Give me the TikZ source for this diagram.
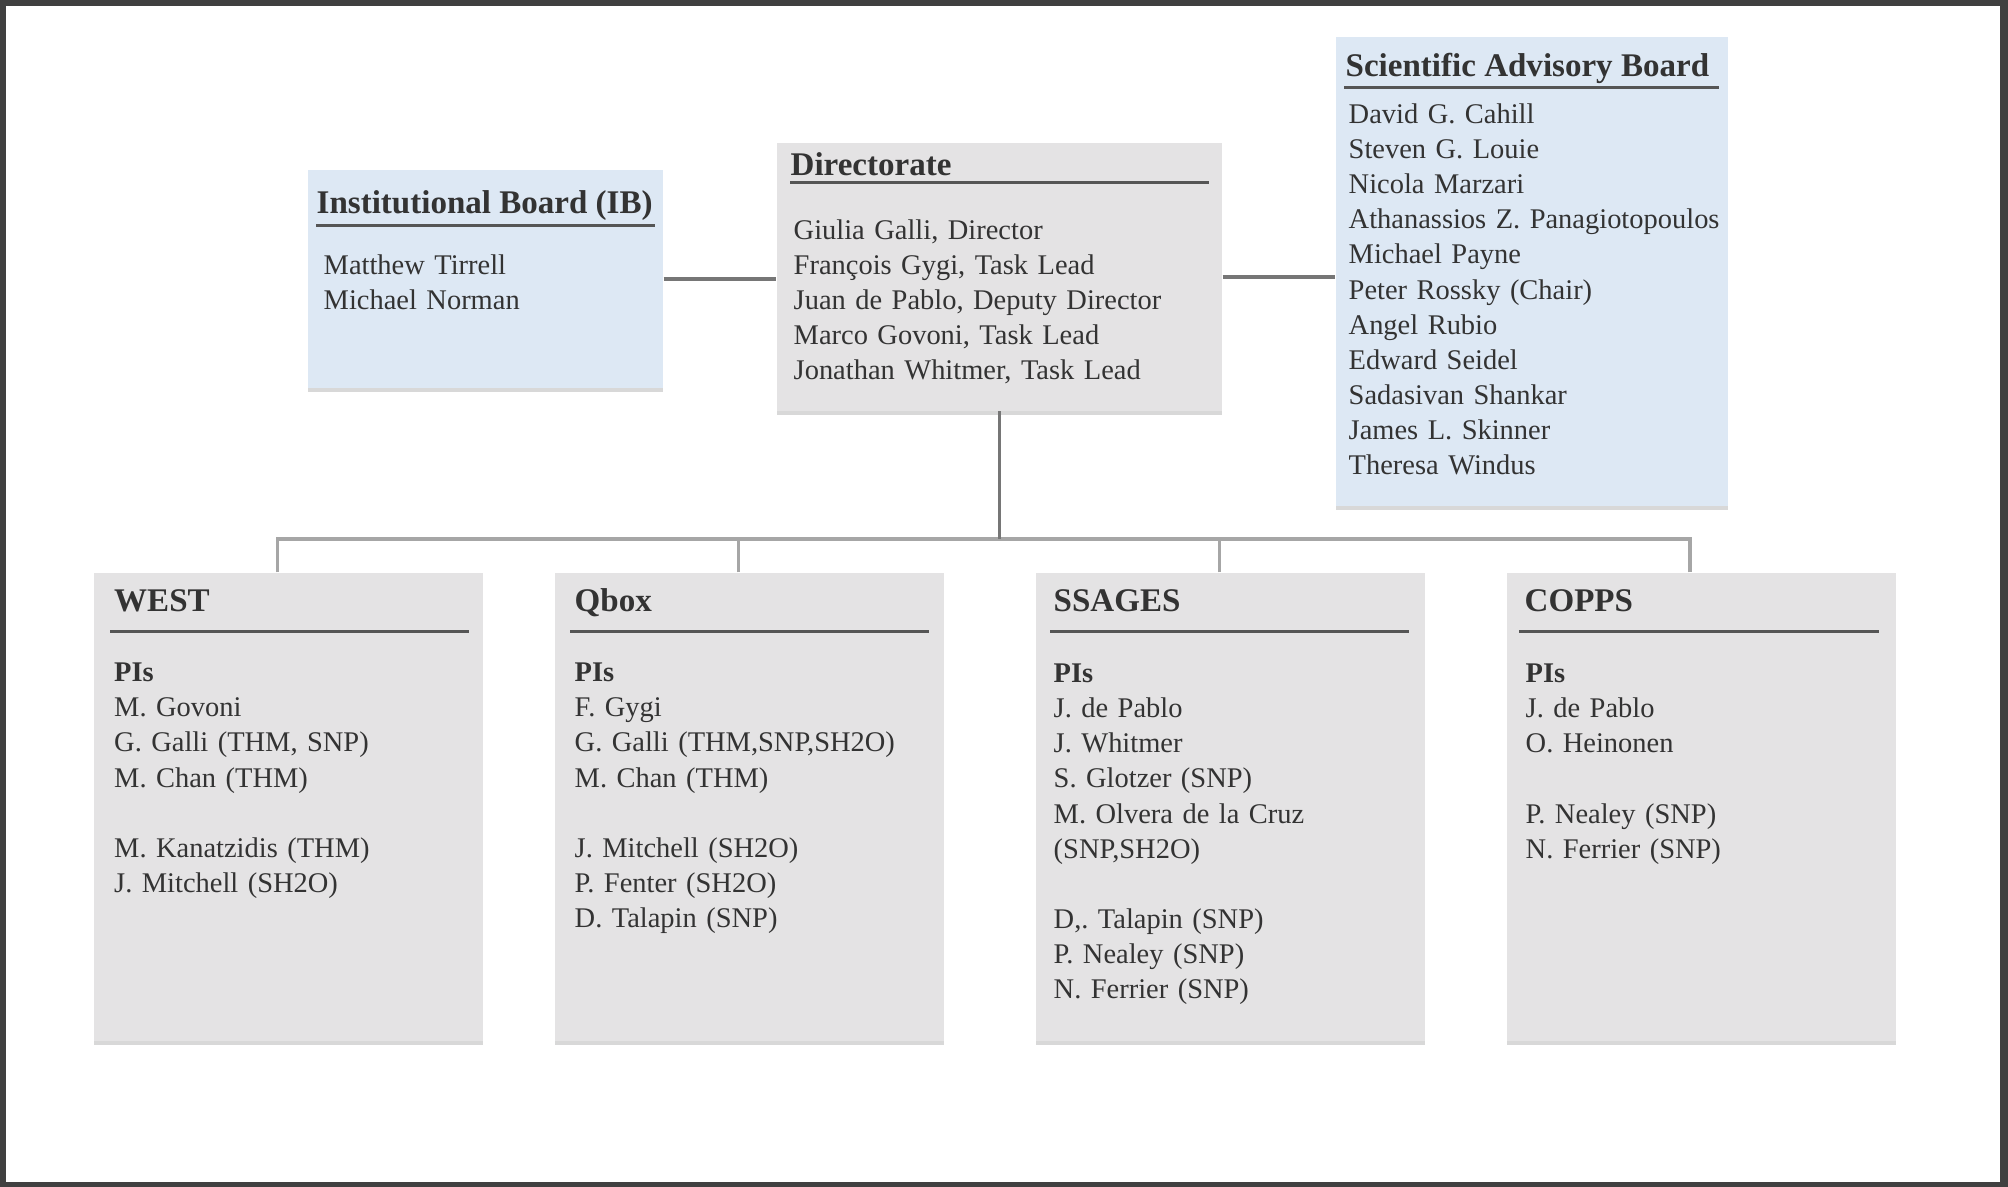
\documentclass[tikz,border=0pt]{standalone}
\usepackage{fontspec}
\setmainfont{Liberation Serif}
\usepackage{tikz}
\usetikzlibrary{shapes,arrows,positioning,calc,shadows}

\definecolor{framegray}{HTML}{404040}
\definecolor{boxgray}{HTML}{E4E3E4}
\definecolor{boxblue}{HTML}{DDE8F4}
\definecolor{inkgray}{HTML}{333333}
\definecolor{rulegray}{HTML}{555555}
\definecolor{linkgray}{HTML}{767676}
\definecolor{busgray}{HTML}{A6A6A6}

\begin{document}
\begin{tikzpicture}[
    board/.style = {rectangle, fill=boxblue, inner sep=0pt, drop shadow={shadow xshift=0pt, shadow yshift=-1.2pt, fill=gray, opacity=0.3}},
    panel/.style = {rectangle, fill=boxgray, inner sep=0pt, drop shadow={shadow xshift=0pt, shadow yshift=-1.2pt, fill=gray, opacity=0.3}},
    code/.style = {panel, minimum width=3.89cm, minimum height=4.68cm},
    heading/.style = {anchor=base west, inner sep=0pt, text=inkgray, font=\fontsize{9.4}{11}\selectfont\bfseries},
    names/.style = {anchor=base west, inner sep=0pt, text=inkgray, align=left, text width=3.7cm, font=\fontsize{8.1}{9.96}\selectfont},
    rule/.style = {draw=rulegray, line width=0.85pt},
    link/.style = {draw=linkgray, line width=1.1pt},
    branch/.style = {draw=busgray, line width=1.1pt}
]
    % Frame
    \fill[framegray] (0,0) rectangle (20.08,11.87);
    \fill[white] (0.06,0.05) rectangle (20.00,11.81);

    % Top row: boards and directorate
    \node[board, minimum width=3.55cm, minimum height=2.18cm] (ib) at (4.855,9.08) {};
    \node[panel, minimum width=4.45cm, minimum height=2.675cm] (dir) at (9.995,9.10) {};
    \node[board, minimum width=3.92cm, minimum height=4.69cm] (sab) at (15.32,9.155) {};

    % Bottom row: codes
    \node[code] (west) at (2.885,3.80) {};
    \node[code] (qbox) at (7.495,3.80) {};
    \node[code] (ssages) at (12.305,3.80) {};
    \node[code] (copps) at (17.01,3.80) {};

    % Institutional Board
    \node[heading] (ibtitle) at (3.16,9.73) {Institutional Board (IB)};
    \draw[rule] (3.16,9.61) -- (6.55,9.61);
    \node[names] (iblist) at (3.23,9.12) {Matthew Tirrell\\ Michael Norman};

    % Directorate
    \node[heading] (dirtitle) at (7.90,10.11) {Directorate};
    \draw[rule] (7.90,10.04) -- (12.09,10.04);
    \node[names, text width=4.2cm] (dirlist) at (7.93,9.47) {Giulia Galli, Director\\ François Gygi, Task Lead\\ Juan de Pablo, Deputy Director\\ Marco Govoni, Task Lead\\ Jonathan Whitmer, Task Lead};

    % Scientific Advisory Board
    \node[heading] (sabtitle) at (13.45,11.105) {Scientific Advisory Board};
    \draw[rule] (13.44,10.99) -- (17.19,10.99);
    \node[names, text width=3.9cm] (sablist) at (13.48,10.63) {David G. Cahill\\ Steven G. Louie\\ Nicola Marzari\\ Athanassios Z. Panagiotopoulos\\ Michael Payne\\ Peter Rossky (Chair)\\ Angel Rubio\\ Edward Seidel\\ Sadasivan Shankar\\ James L. Skinner\\ Theresa Windus};

    % WEST
    \node[heading] (westtitle) at (1.135,5.75) {WEST};
    \draw[rule] (1.10,5.55) -- (4.69,5.55);
    \node[names] (westlist) at (1.135,5.05) {\textbf{PIs}\\ M. Govoni\\ G. Galli (THM, SNP)\\ M. Chan (THM)\\[9.96pt] M. Kanatzidis (THM)\\ J. Mitchell (SH2O)};

    % Qbox
    \node[heading] (qboxtitle) at (5.74,5.75) {Qbox};
    \draw[rule] (5.70,5.55) -- (9.29,5.55);
    \node[names] (qboxlist) at (5.74,5.05) {\textbf{PIs}\\ F. Gygi\\ G. Galli (THM,SNP,SH2O)\\ M. Chan (THM)\\[9.96pt] J. Mitchell (SH2O)\\ P. Fenter (SH2O)\\ D. Talapin (SNP)};

    % SSAGES
    \node[heading] (ssagestitle) at (10.53,5.75) {SSAGES};
    \draw[rule] (10.50,5.55) -- (14.09,5.55);
    \node[names] (ssageslist) at (10.53,5.04) {\textbf{PIs}\\ J. de Pablo\\ J. Whitmer\\ S. Glotzer (SNP)\\ M. Olvera de la Cruz\\ (SNP,SH2O)\\[9.96pt] D,.\ Talapin (SNP)\\ P. Nealey (SNP)\\ N. Ferrier (SNP)};

    % COPPS
    \node[heading] (coppstitle) at (15.24,5.75) {COPPS};
    \draw[rule] (15.19,5.55) -- (18.79,5.55);
    \node[names] (coppslist) at (15.25,5.04) {\textbf{PIs}\\ J. de Pablo\\ O. Heinonen\\[9.96pt] P. Nealey (SNP)\\ N. Ferrier (SNP)};

    % Links between boards and directorate
    \draw[link] (ib.east) -- (ib.east -| dir.west);
    \draw[link] (dir.east) -- (dir.east -| sab.west);

    % Tree down to the codes
    \coordinate (hub) at (dir.south |- 0,6.48);
    \draw[branch] ([xshift=-1.1mm]west.north) |- (hub);
    \draw[branch] ([xshift=-1.1mm]qbox.north) |- (hub);
    \draw[branch] ([xshift=-1.1mm]ssages.north) |- (hub);
    \draw[branch] ([xshift=-1.1mm]copps.north) |- (hub);
    \draw[link] (dir.south) -- (hub);

\end{tikzpicture}
\end{document}
